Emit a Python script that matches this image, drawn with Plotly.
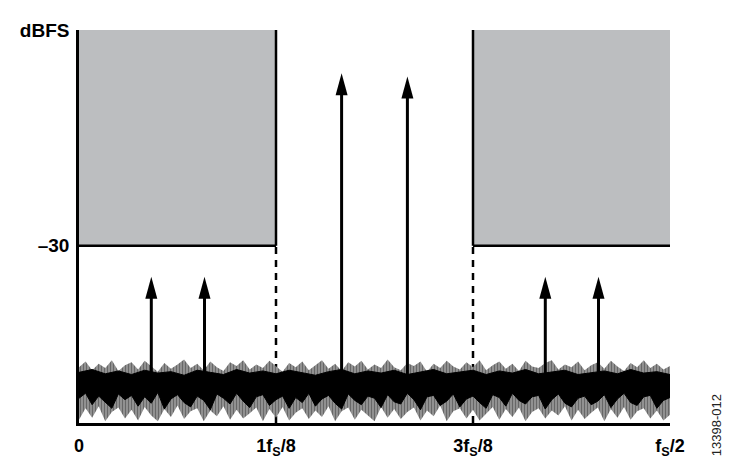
import numpy as np
import plotly.graph_objects as go

# ---- data ----
x_tick_vals = [0, 1, 2, 3]
x_tick_text = ["0", "1f<sub>S</sub>/8", "3f<sub>S</sub>/8", "f<sub>S</sub>/2"]
y_tick_vals = [-30, 0]
y_tick_text = ["–30", "dBFS"]
y_min = -54.64
threshold_db = -30
band_left = [0, 1]      # blocked band (0 .. fs/8)
band_right = [2, 3]     # blocked band (3fs/8 .. fs/2)

tone_x = [0.367, 0.637, 1.333, 1.667, 2.367, 2.637]
tone_db = [-34.3, -34.3, -6.0, -6.45, -34.3, -34.3]
tone_base_db = -48.0

# outer envelope of the noise (spike tips)
noise_top = [-46.9, -46.1, -47.3, -46.4, -47.0, -45.9, -47.4, -46.6, -46.2, -47.2,
             -46.0, -46.8, -47.5, -46.3, -47.1, -46.5, -45.8, -47.0, -46.4, -47.3,
             -46.1, -46.9, -47.4, -46.2, -46.7, -45.9, -47.2, -46.5, -47.0, -46.0,
             -46.8, -47.5, -46.3, -46.9, -46.1, -47.3, -46.6, -45.9, -47.1, -46.4,
             -47.4, -46.2, -46.8, -46.0, -47.2, -46.5, -47.0, -45.8, -46.9, -47.3,
             -46.3, -46.7, -46.1, -47.5, -46.4, -47.0, -46.0, -46.8, -47.2, -46.2,
             -46.9, -45.9, -47.3, -46.6, -46.1, -47.1, -46.4, -47.4, -46.0, -46.8,
             -47.0, -46.3, -45.9, -47.2, -46.5, -46.9, -46.1, -47.3, -46.6, -46.2,
             -47.1, -46.0, -46.8, -47.4, -46.3, -46.9, -45.9, -47.0, -46.4, -47.2, -46.7]
noise_grey_bottom = [-54.2, -52.6, -53.9, -52.3, -54.4, -53.1, -52.5, -54.0, -52.8, -54.3,
                     -52.4, -53.6, -54.4, -52.7, -53.8, -52.2, -54.1, -53.0, -52.6, -54.4,
                     -52.9, -53.7, -52.3, -54.2, -52.8, -54.0, -53.3, -52.5, -54.4, -52.7,
                     -53.9, -52.4, -54.3, -53.2, -52.6, -54.1, -52.9, -53.8, -52.3, -54.4,
                     -53.0, -52.5, -54.2, -52.8, -53.6, -54.4, -52.4, -53.9, -52.7, -54.1,
                     -53.1, -52.5, -54.3, -52.9, -53.7, -52.2, -54.4, -53.0, -52.6, -54.0,
                     -52.8, -54.3, -53.4, -52.4, -54.2, -52.7, -53.8, -52.5, -54.4, -53.1,
                     -52.6, -54.0, -52.9, -53.6, -52.3, -54.3, -52.8, -54.1, -53.2, -52.5,
                     -54.4, -52.7, -53.9, -52.4, -54.2, -53.0, -52.6, -54.0, -52.9, -54.3, -53.5]
# dense core of the noise
noise_core_top = [-47.6, -47.2, -47.8, -47.4, -47.9, -47.3, -47.7, -47.5, -48.0, -47.3,
                  -47.6, -47.9, -47.2, -47.7, -47.4, -47.8, -47.3, -47.6, -48.0, -47.5,
                  -47.2, -47.8, -47.4, -47.7, -47.3, -47.9, -47.5, -47.2, -47.8, -47.6,
                  -47.3, -47.9, -47.4, -47.7, -47.2, -47.8, -47.5, -47.3, -47.9, -47.6,
                  -47.4, -47.8, -47.2, -47.7, -47.5, -47.9]
noise_black_bottom = [-51.2, -50.5, -52.1, -50.9, -51.7, -52.6, -50.6, -51.4, -50.8, -52.3,
                      -51.0, -51.9, -50.4, -52.7, -51.3, -50.7, -51.8, -52.4, -50.9, -51.5,
                      -52.8, -50.6, -51.2, -52.0, -50.5, -51.6, -52.5, -51.0, -50.7, -52.2,
                      -51.4, -50.9, -52.6, -51.1, -51.8, -50.5, -52.3, -51.3, -50.8, -51.9,
                      -52.7, -50.6, -51.5, -52.1, -50.9, -51.2, -52.5, -50.7, -51.7, -52.0,
                      -50.5, -51.4, -52.8, -51.0, -50.8, -52.2, -51.6, -50.6, -52.4, -51.3,
                      -50.9, -51.8, -52.6, -50.7, -51.1, -52.3, -50.5, -51.5, -52.0, -51.0,
                      -50.8, -52.7, -51.4, -50.6, -51.9, -52.4, -51.2, -50.9, -52.1, -51.6,
                      -50.7, -52.5, -51.3, -50.5, -51.8, -52.2, -51.0, -50.8, -52.6, -51.5, -51.1]

# ---- layout constants ----
W, H = 729, 463
ML, MR, MT, MB = 62, 67, 12, 43
plot_h = H - MT - MB
px_per_db = plot_h / (0 - y_min)
GREY = "rgb(188,190,192)"
FONT = "Liberation Sans, Arial, sans-serif"

fig = go.Figure()

# noise floor: striped fringe, then black core
xt = np.linspace(0, 3, len(noise_top))
xg = np.linspace(0, 3, len(noise_grey_bottom))
xc = np.linspace(0, 3, len(noise_core_top))
xb = np.linspace(0, 3, len(noise_black_bottom))
fig.add_trace(go.Scatter(
    x=list(xt) + list(xg[::-1]), y=noise_top + noise_grey_bottom[::-1],
    fill="toself", fillcolor="#222222", line=dict(width=0),
    fillpattern=dict(shape="|", size=3, solidity=0.7, fgcolor="#0a0a0a", bgcolor="#c4c4c4"),
    mode="lines", hoverinfo="skip", showlegend=False))
fig.add_trace(go.Scatter(
    x=list(xc) + list(xb[::-1]), y=noise_core_top + noise_black_bottom[::-1],
    fill="toself", fillcolor="black", line=dict(width=1, color="black"),
    mode="lines", hoverinfo="skip", showlegend=False))

# tone stems
head_len = 22
head_w = 12
sx, sy = [], []
for x, d in zip(tone_x, tone_db):
    sx += [x, x, None]
    sy += [tone_base_db, d - 12 / px_per_db, None]
fig.add_trace(go.Scatter(x=sx, y=sy, mode="lines", line=dict(color="black", width=3),
                         hoverinfo="skip", showlegend=False))

shapes = []
for b in (band_left, band_right):
    shapes.append(dict(type="rect", xref="x", yref="y", x0=b[0], x1=b[1], y0=threshold_db, y1=0,
                       fillcolor=GREY, line=dict(width=0), layer="below"))
shapes.append(dict(type="line", xref="x", yref="y", x0=band_left[1], x1=band_left[1],
                   y0=threshold_db, y1=0, line=dict(color="black", width=2.5)))
shapes.append(dict(type="line", xref="x", yref="y", x0=band_left[0], x1=band_left[1],
                   y0=threshold_db, y1=threshold_db, line=dict(color="black", width=2.5)))
shapes.append(dict(type="line", xref="x", yref="y", x0=band_right[0], x1=band_right[0],
                   y0=threshold_db, y1=0, line=dict(color="black", width=2.5)))
shapes.append(dict(type="line", xref="x", yref="y", x0=band_right[0], x1=band_right[1],
                   y0=threshold_db, y1=threshold_db, line=dict(color="black", width=2.5)))
for xv in (band_left[1], band_right[0]):
    shapes.append(dict(type="line", xref="x", yref="y", x0=xv, x1=xv, y0=y_min, y1=threshold_db,
                       line=dict(color="black", width=2.5, dash="7px,6px"), layer="below"))
for x, d in zip(tone_x, tone_db):
    shapes.append(dict(type="path", xref="x", yref="y", xsizemode="pixel", ysizemode="pixel",
                       xanchor=x, yanchor=d,
                       path=f"M{-head_w/2},{-head_len} L{head_w/2},{-head_len} L0,0 Z",
                       fillcolor="black", line=dict(width=0)))

fig.update_layout(
    width=W, height=H,
    margin=dict(l=ML, r=MR, t=MT, b=MB),
    paper_bgcolor="white", plot_bgcolor="white",
    shapes=shapes,
    showlegend=False,
    xaxis=dict(range=[0, 3], showgrid=False, zeroline=False, showline=True, linecolor="black",
               linewidth=2.5, ticks="", tickvals=x_tick_vals, ticktext=x_tick_text,
               ticklabelstandoff=5,
               tickfont=dict(family=FONT, size=18, color="black", weight="bold")),
    yaxis=dict(range=[y_min, 0], showgrid=False, zeroline=False, showline=True, linecolor="black",
               linewidth=2.5, ticks="", tickvals=y_tick_vals, ticktext=y_tick_text,
               ticklabelstandoff=3,
               tickfont=dict(family=FONT, size=19, color="black", weight="bold")),
    annotations=[dict(text="13398-012", xref="paper", yref="paper", x=1.08, y=-0.005,
                      xanchor="center", yanchor="middle", textangle=-90, showarrow=False,
                      font=dict(family=FONT, size=13, color="#222"))],
)

fig.write_html("out.html")
